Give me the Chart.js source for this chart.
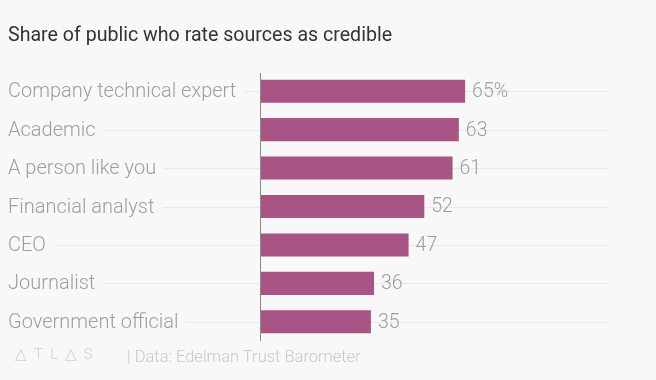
<!DOCTYPE html>
<html>
<head>
<meta charset="utf-8">
<script src="https://cdn.jsdelivr.net/npm/chart.js@4/dist/chart.umd.min.js"></script>
<style>
  html, body { margin: 0; padding: 0; background: #f8f8f8; }
  #wrap { position: relative; width: 656px; height: 380px; overflow: hidden; }
  #bars { position: absolute; left: 0; top: 0; }
  #title { position: absolute; left: 8px; top: 23px; font: 400 19.6px Roboto, sans-serif; color: #333; white-space: nowrap; }
  #logo { position: absolute; left: 15px; top: 345px; font: 300 15px Roboto, sans-serif; color: #cfcfcf; letter-spacing: 7px; white-space: nowrap; }
  #source { position: absolute; left: 127px; top: 347px; font: 300 16.5px Roboto, sans-serif; color: #c8c8c8; white-space: nowrap; }
</style>
</head>
<body>
<div id="wrap">
  <canvas id="bars" width="656" height="380"></canvas>
  <div id="title">Share of public who rate sources as credible</div>
  <div id="logo">△TL△S</div>
  <div id="source">| Data: Edelman Trust Barometer</div>
</div>
<script>
// --- data ---
const categories = ["Company technical expert", "Academic", "A person like you", "Financial analyst", "CEO", "Journalist", "Government official"];
const shares = [65, 63, 61, 52, 47, 36, 35];
const valueLabels = ["65%", "63", "61", "52", "47", "36", "35"];

const canvas = document.getElementById("bars");
const labelFont = "300 20px Roboto, sans-serif";
const valueFont = "300 19.5px Roboto, sans-serif";

// labels on the left + faint gridlines running to the right edge
const rowsPlugin = {
  id: "rows",
  beforeDatasetsDraw(chart) {
    const { ctx, chartArea, scales } = chart;
    ctx.save();
    ctx.font = labelFont;
    categories.forEach((name, i) => {
      const y = Math.round(scales.y.getPixelForValue(i)) + 0.5;
      const w = ctx.measureText(name).width;
      ctx.strokeStyle = "#e9e9e9";
      ctx.lineWidth = 1;
      ctx.beginPath();
      ctx.moveTo(8 + w + 8, y);
      ctx.lineTo(chartArea.right, y);
      ctx.stroke();
      ctx.fillStyle = "#9e9e9e";
      ctx.textBaseline = "middle";
      ctx.textAlign = "left";
      ctx.fillText(name, 8, y);
    });
    ctx.restore();
  },
  afterDatasetsDraw(chart) {
    const { ctx, chartArea } = chart;
    const meta = chart.getDatasetMeta(0);
    ctx.save();
    ctx.font = valueFont;
    ctx.fillStyle = "#9e9e9e";
    ctx.textBaseline = "middle";
    meta.data.forEach((bar, i) => {
      ctx.fillText(valueLabels[i], bar.x + 7, bar.y + 1);
    });
    // axis line
    ctx.strokeStyle = "#8a8a8a";
    ctx.lineWidth = 1;
    ctx.beginPath();
    ctx.moveTo(chartArea.left - 0.5, chartArea.top + 1);
    ctx.lineTo(chartArea.left - 0.5, chartArea.bottom);
    ctx.stroke();
    ctx.restore();
  }
};

new Chart(canvas, {
  type: "bar",
  data: {
    labels: categories,
    datasets: [{
      data: shares,
      backgroundColor: "#a85586",
      barPercentage: 0.6,
      categoryPercentage: 1
    }]
  },
  options: {
    indexAxis: "y",
    responsive: false,
    animation: false,
    layout: { padding: { top: 72, bottom: 39, left: 0, right: 48 } },
    plugins: { legend: { display: false }, tooltip: { enabled: false } },
    scales: {
      x: { display: false, min: 0, max: 110.5 },
      y: {
        display: true,
        ticks: { display: false },
        grid: { display: false },
        border: { display: false },
        afterFit(scale) { scale.width = 261; }
      }
    }
  },
  plugins: [rowsPlugin]
});
</script>
</body>
</html>
